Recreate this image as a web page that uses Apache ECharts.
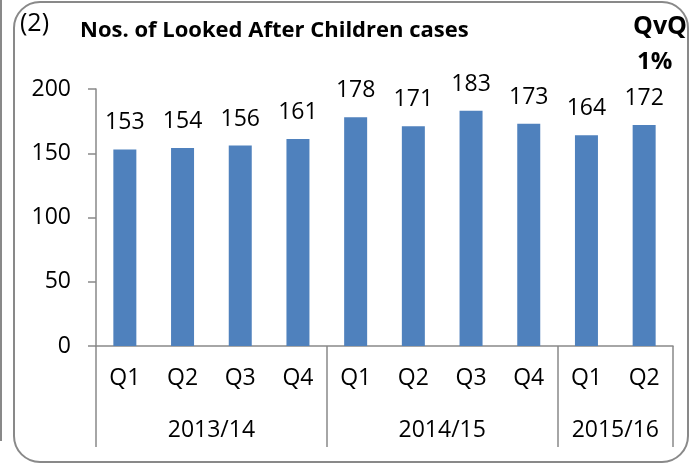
<!DOCTYPE html>
<html lang="en">
<head>
    <meta charset="UTF-8">
    <title>Looked After Children</title>
    <script src="https://cdn.jsdelivr.net/npm/echarts@6/dist/echarts.min.js"></script>
</head>
<body style="padding: 0; margin: 0">
    <div id="main" style="width: 690px; height: 464px;"></div>
<script>
    var quarters = ['Q1', 'Q2', 'Q3', 'Q4', 'Q1', 'Q2', 'Q3', 'Q4', 'Q1', 'Q2'];
    var cases = [153, 154, 156, 161, 178, 171, 183, 173, 164, 172];
    var years = ['2013/14', '2014/15', '2015/16'];
    var yearStart = [0, 4, 8, 10];   // quarter index where each year group starts
    var yearMid = [2, 6, 9];

    var font = '"Open Sans", Lato, sans-serif';
    var grey = '#898989';

    var myChart = echarts.init(document.getElementById('main'));
    var option = {
        animation: false,
        grid: { left: 96, right: 17, top: 89, bottom: 118 },
        graphic: [
            {
                type: 'rect',
                shape: { x: 14, y: 2, width: 674, height: 460, r: 26 },
                style: { fill: 'none', stroke: grey, lineWidth: 2 }
            },
            {
                type: 'line',
                shape: { x1: 1, y1: 0, x2: 1, y2: 441 },
                style: { stroke: grey, lineWidth: 2 }
            },
            {
                type: 'text', left: 20, top: 11,
                style: { text: '(2)', fontFamily: font, fontSize: 25, fill: '#000' }
            },
            {
                type: 'text', left: 80, top: 20,
                style: { text: 'Nos. of Looked After Children cases', fontFamily: font, fontSize: 22, fontWeight: 'bold', fill: '#000' }
            },
            {
                type: 'text', left: 633, top: 14,
                style: { text: 'QvQ', fontFamily: font, fontSize: 25, fontWeight: 'bold', fill: '#000', align: 'center' }
            },
            {
                type: 'text', left: 637, top: 50,
                style: { text: '1%', fontFamily: font, fontSize: 24, fontWeight: 'bold', fill: '#000', align: 'center' }
            }
        ],
        xAxis: [
            {
                type: 'category',
                data: quarters,
                axisLine: { lineStyle: { color: grey, width: 1.5 } },
                axisTick: { length: 50, lineStyle: { color: grey, width: 1.5 } },
                axisLabel: { color: '#000', fontFamily: font, fontSize: 23, margin: 21 }
            },
            {
                type: 'value',
                min: 0,
                max: 10,
                position: 'bottom',
                axisLine: { show: false },
                splitLine: { show: false },
                axisTick: {
                    show: true,
                    length: 101,
                    customValues: yearStart,
                    lineStyle: { color: grey, width: 1.5 }
                },
                axisLabel: {
                    color: '#000', fontFamily: font, fontSize: 23, margin: 73,
                    customValues: yearMid,
                    formatter: function (v) { return years[yearMid.indexOf(v)]; }
                }
            }
        ],
        yAxis: {
            type: 'value',
            min: 0,
            max: 200,
            interval: 50,
            splitLine: { show: false },
            axisLine: { show: true, lineStyle: { color: grey, width: 1.5 } },
            axisTick: { show: true, length: 8, lineStyle: { color: grey, width: 1.5 } },
            axisLabel: { color: '#000', fontFamily: font, fontSize: 23, margin: 25 }
        },
        series: [
            {
                name: 'Cases',
                type: 'bar',
                barWidth: 23,
                data: cases,
                itemStyle: { color: '#4F81BD' },
                label: {
                    show: true,
                    position: 'top',
                    distance: 15,
                    color: '#000',
                    fontFamily: font,
                    fontSize: 23
                }
            }
        ]
    };
    myChart.setOption(option);
</script>
</body>
</html>
